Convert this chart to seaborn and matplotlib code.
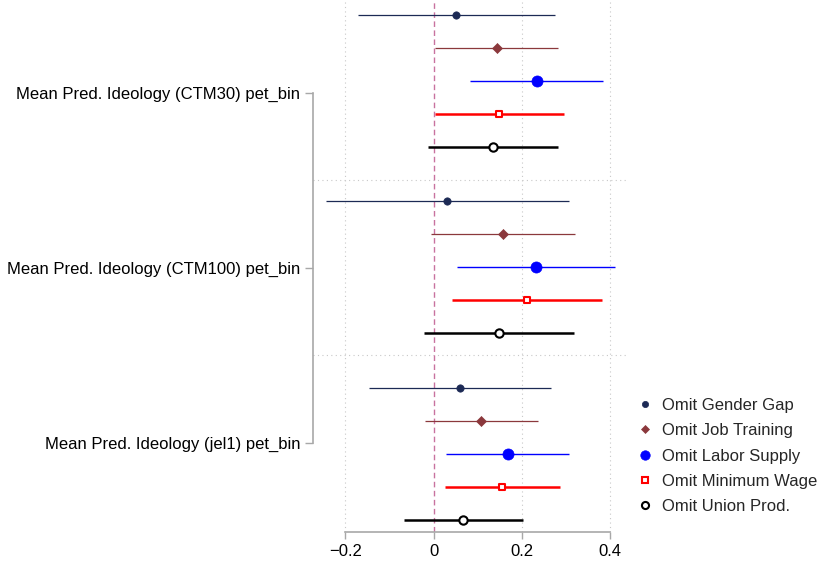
import numpy as np
import pandas as pd
import matplotlib
matplotlib.use("Agg")
import matplotlib.pyplot as plt
from matplotlib.lines import Line2D
import seaborn as sns

# ---------------- data ----------------
groups = ["Mean Pred. Ideology (CTM30) pet_bin",
          "Mean Pred. Ideology (CTM100) pet_bin",
          "Mean Pred. Ideology (jel1) pet_bin"]
models = ["Omit Gender Gap", "Omit Job Training", "Omit Labor Supply",
          "Omit Minimum Wage", "Omit Union Prod."]

# rows: groups, columns: models
coef = [[0.050, 0.143, 0.233, 0.148, 0.134],
        [0.031, 0.157, 0.232, 0.211, 0.148],
        [0.060, 0.108, 0.168, 0.155, 0.067]]
ci_low = [[-0.171, 0.003, 0.083, 0.003, -0.013],
          [-0.244, -0.006, 0.053, 0.042, -0.022],
          [-0.147, -0.020, 0.028, 0.026, -0.067]]
ci_high = [[0.274, 0.281, 0.383, 0.295, 0.281],
           [0.306, 0.321, 0.411, 0.381, 0.318],
           [0.266, 0.236, 0.306, 0.285, 0.203]]
xticks = [-0.2, 0, 0.2, 0.4]
xticklabels = ["\u22120.2", "0", "0.2", "0.4"]

# ---------------- styles ----------------
colors = ["#1c2a55", "#8b383c", "#0000ff", "#ff0000", "#000000"]
markers = ["o", "D", "o", "s", "o"]
msizes = [28, 26, 64, 24, 36]
hollow = [False, False, False, True, True]
ci_lw = [0.9, 0.9, 1.0, 1.8, 1.8]

group_offset = 5.65
label_pos = [2.36, 7.67, 12.97]
separators = [5.0, 10.3]

rows = []
for g, gname in enumerate(groups):
    for m, mname in enumerate(models):
        rows.append(dict(group=gname, model=mname, y=g * group_offset + m,
                         coef=coef[g][m], lo=ci_low[g][m], hi=ci_high[g][m]))
df = pd.DataFrame(rows)

sns.set_style("white")
plt.rcParams["font.family"] = ["Liberation Sans", "DejaVu Sans"]
FS = 12

fig = plt.figure(figsize=(8.19, 5.63), dpi=100)
ax = fig.add_axes([313 / 819, 1 - 532 / 563, (628 - 313) / 819, 532 / 563])

ax.set_xlim(-0.2734, 0.4401)
ax.set_ylim(15.67, -0.455)

# grid lines
for xv in [-0.2, 0.2, 0.4]:
    ax.axvline(xv, color="#c8c8c8", lw=0.8, ls=(0, (1, 3)), zorder=0)
for sv in separators:
    ax.axhline(sv, color="#c8c8c8", lw=0.8, ls=(0, (1, 3)), zorder=0)
ax.axvline(0, color="#c8729f", lw=1.0, ls=(0, (4, 2.5)), zorder=1)

for m, mname in enumerate(models):
    sub = df[df.model == mname]
    ax.hlines(sub.y, sub.lo, sub.hi, color=colors[m], lw=ci_lw[m], zorder=2)
    sns.scatterplot(data=sub, x="coef", y="y", ax=ax, marker=markers[m],
                    s=msizes[m],
                    color=("white" if hollow[m] else colors[m]),
                    edgecolor=colors[m],
                    linewidth=(1.5 if hollow[m] else 0.5),
                    legend=False, zorder=3)

ax.set_xlabel("")
ax.set_ylabel("")
ax.set_xticks(xticks)
ax.set_xticklabels(xticklabels, fontsize=FS)
ax.set_yticks(label_pos)
ax.set_yticklabels(groups, fontsize=FS)

for s in ["top", "right"]:
    ax.spines[s].set_visible(False)
for s in ["left", "bottom"]:
    ax.spines[s].set_color("#a8a8a8")
    ax.spines[s].set_linewidth(1.2)
ax.spines["bottom"].set_bounds(-0.2, 0.4)
ax.spines["left"].set_bounds(label_pos[0], label_pos[-1])
ax.tick_params(axis="both", direction="out", length=6, width=1.0,
               color="#a8a8a8", labelcolor="black", pad=3,
               left=True, bottom=True)
ax.tick_params(axis="x", length=5, pad=4)

handles = []
for m, mname in enumerate(models):
    ms = np.sqrt(msizes[m]) * 0.85
    handles.append(Line2D([], [], linestyle="none", marker=markers[m],
                          markersize=ms,
                          markerfacecolor=("white" if hollow[m] else colors[m]),
                          markeredgecolor=colors[m],
                          markeredgewidth=(1.5 if hollow[m] else 0.5)))
fig.legend(handles, models, loc="center left",
           bbox_to_anchor=(637 / 819, 1 - 456 / 563), frameon=False,
           fontsize=FS, borderpad=0, handlelength=1.0, handletextpad=0.5,
           labelspacing=0.62, borderaxespad=0)

fig.savefig("out.png", dpi=100)
